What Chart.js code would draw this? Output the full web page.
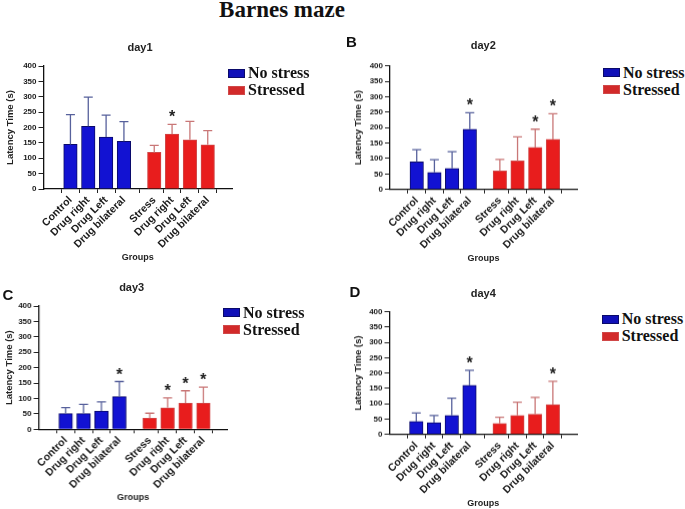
<!DOCTYPE html>
<html>
<head>
<meta charset="utf-8">
<title>Barnes maze</title>
<script src="https://cdn.jsdelivr.net/npm/chart.js@4.4.0/dist/chart.umd.min.js"></script>
<style>
    body { margin: 0; background: #fff; }
    #figure {
        position: relative; width: 685px; height: 509px; overflow: hidden;
        font-family: "Liberation Sans", Arial, sans-serif; color: #111;
    }
    .panel { position: absolute; }
    .centered { position: absolute; transform: translate(-50%, -50%); line-height: 1; white-space: nowrap; }
    .fig-title { font: bold 23px "Liberation Serif", "Times New Roman", serif; }
    .letter { font-weight: bold; font-size: 15px; }
    .day { font-weight: bold; font-size: 11px; color: #222; }
    .legend-row {
        position: absolute; height: 17px; display: flex; align-items: center;
        font: bold 16px "Liberation Serif", "Times New Roman", serif; white-space: nowrap;
    }
    .legend-row .box { width: 15px; height: 7px; margin-right: 3px; border: 1px solid; }
</style>
</head>
<body>
<div id="figure">
    <div class="centered fig-title" style="left:282px; top:10px;">Barnes maze</div>
</div>

<script>
    // categories on the x axis (No stress groups, then Stressed groups)
    const labels = ['Control', 'Drug right', 'Drug Left', 'Drug bilateral',
                    'Stress', 'Drug right', 'Drug Left', 'Drug bilateral'];
    const seriesNames = ['No stress', 'Stressed'];
    const dayTitles = ['day1', 'day2', 'day3', 'day4'];
    const yTitle = 'Latency Time (s)';
    const xTitle = 'Groups';
    const yMax = 400;
    const yStep = 50;

    // mean latency (s) and SD
    const day1NoStress = [145, 204, 169, 155];
    const day1NoStressSD = [97, 95, 71, 64];
    const day1Stressed = [119, 179, 160, 144];
    const day1StressedSD = [23, 31, 60, 46];
    const day1Sig = [false, false, false, false, false, true, false, false];

    const day2NoStress = [89, 55, 68, 195];
    const day2NoStressSD = [40, 41, 54, 53];
    const day2Stressed = [60, 92, 136, 162];
    const day2StressedSD = [37, 78, 59, 83];
    const day2Sig = [false, false, false, true, false, false, true, true];

    const day3NoStress = [51, 51, 59, 106];
    const day3NoStressSD = [19, 30, 30, 49];
    const day3Stressed = [36, 70, 85, 85];
    const day3StressedSD = [16, 32, 40, 52];
    const day3Sig = [false, false, false, true, false, true, true, true];

    const day4NoStress = [42, 38, 62, 160];
    const day4NoStressSD = [28, 24, 56, 49];
    const day4Stressed = [36, 62, 66, 97];
    const day4StressedSD = [20, 43, 55, 76];
    const day4Sig = [false, false, false, true, false, false, false, true];

    const blue = { fill: '#1212d2', border: '#0a0a6a', err: '#57619c', legend: '#1010b8' };
    const red = { fill: '#e81d1d', border: '#d04848', err: '#c97777', legend: '#d22a2a' };

    // index-axis position of each bar; the Stressed block sits after a gap
    const slot = labels.map((l, i) => i + 1 + (i >= 4 ? 0.7 : 0));

    // draws the upper SD whisker and the significance star for each bar
    const errorBars = {
        id: 'errorBars',
        afterDatasetsDraw(chart) {
            const ctx = chart.ctx;
            const y = chart.scales.y;
            chart.data.datasets.forEach((ds, di) => {
                chart.getDatasetMeta(di).data.forEach((bar, i) => {
                    const top = y.getPixelForValue(ds.data[i].y + ds.sd[i]);
                    ctx.save();
                    ctx.strokeStyle = ds.errColor;
                    ctx.lineWidth = 1.3;
                    ctx.beginPath();
                    ctx.moveTo(bar.x, bar.y);
                    ctx.lineTo(bar.x, top);
                    ctx.moveTo(bar.x - 4.5, top);
                    ctx.lineTo(bar.x + 4.5, top);
                    ctx.stroke();
                    if (ds.sig[i]) {
                        ctx.fillStyle = '#222';
                        ctx.font = 'bold 16px "Liberation Sans"';
                        ctx.textAlign = 'center';
                        ctx.textBaseline = 'alphabetic';
                        ctx.fillText('*', bar.x, top - 2);
                    }
                    ctx.restore();
                });
            });
        }
    };

    const fig = document.getElementById('figure');

    function addText(cls, text, x, y) {
        const d = document.createElement('div');
        d.className = 'centered ' + cls;
        d.style.left = x + 'px';
        d.style.top = y + 'px';
        d.textContent = text;
        fig.appendChild(d);
    }

    function addLegend(x, y) {
        [blue, red].forEach((c, i) => {
            const row = document.createElement('div');
            row.className = 'legend-row';
            row.style.left = x + 'px';
            row.style.top = (y - 8.5 + i * 17) + 'px';
            const box = document.createElement('span');
            box.className = 'box';
            box.style.background = c.legend;
            box.style.borderColor = c.border;
            row.appendChild(box);
            row.appendChild(document.createTextNode(seriesNames[i]));
            fig.appendChild(row);
        });
    }

    function makePanel(p) {
        const width = p.axisEnd - p.left + 8;
        const height = p.plotBottom - p.top + 75;
        const padLeft = p.yTitleX - p.left - 5.7;

        const wrap = document.createElement('div');
        wrap.className = 'panel';
        wrap.style.left = p.left + 'px';
        wrap.style.top = p.top + 'px';
        wrap.style.width = width + 'px';
        wrap.style.height = height + 'px';
        const canvas = document.createElement('canvas');
        wrap.appendChild(canvas);
        fig.appendChild(wrap);

        const tickFont = { family: '"Liberation Sans", Arial, sans-serif', weight: 'bold' };

        new Chart(canvas, {
            type: 'bar',
            data: {
                datasets: [
                    {
                        label: seriesNames[0],
                        data: p.noStress.map((v, i) => ({ x: slot[i], y: v })),
                        sd: p.noStressSD,
                        sig: p.sig.slice(0, 4),
                        errColor: blue.err,
                        backgroundColor: blue.fill,
                        borderColor: blue.border,
                        borderWidth: 1,
                        barThickness: 13.5,
                        grouped: false
                    },
                    {
                        label: seriesNames[1],
                        data: p.stressed.map((v, i) => ({ x: slot[i + 4], y: v })),
                        sd: p.stressedSD,
                        sig: p.sig.slice(4),
                        errColor: red.err,
                        backgroundColor: red.fill,
                        borderColor: red.border,
                        borderWidth: 1,
                        barThickness: 13.5,
                        grouped: false
                    }
                ]
            },
            options: {
                responsive: true,
                maintainAspectRatio: false,
                animation: false,
                layout: {
                    padding: { left: padLeft, top: p.plotTop - p.top, right: 8, bottom: 0 }
                },
                plugins: {
                    legend: { display: false },
                    tooltip: { enabled: false }
                },
                scales: {
                    x: {
                        type: 'linear',
                        min: 0.15,
                        max: 9.4,
                        afterBuildTicks: s => { s.ticks = slot.map(v => ({ value: v })); },
                        afterFit: s => { s.height = 75; },
                        grid: { drawOnChartArea: false, tickLength: 4, color: '#222', tickWidth: 1 },
                        border: { color: '#111', width: 1.3 },
                        ticks: {
                            autoSkip: false,
                            minRotation: 45,
                            maxRotation: 45,
                            padding: 1,
                            color: '#1a1a1a',
                            font: { ...tickFont, size: 10.5 },
                            callback: (v, i) => labels[i]
                        },
                        title: {
                            display: true,
                            text: xTitle,
                            color: '#222',
                            font: { ...tickFont, size: 9 },
                            padding: { top: 0, bottom: 1.1 }
                        }
                    },
                    y: {
                        min: 0,
                        max: yMax,
                        afterFit: s => { s.width = p.axisX - p.left - padLeft; },
                        grid: { drawOnChartArea: false, tickLength: 5, color: '#222', tickWidth: 1 },
                        border: { color: '#111', width: 1.3 },
                        ticks: {
                            stepSize: yStep,
                            padding: 2,
                            color: '#1a1a1a',
                            font: { ...tickFont, size: 8 }
                        },
                        title: {
                            display: true,
                            text: yTitle,
                            color: '#222',
                            font: { ...tickFont, size: 9.5 },
                            padding: { top: 0, bottom: 0 }
                        }
                    }
                }
            },
            plugins: [errorBars]
        });

        if (p.letter) addText('letter', p.letter, p.letterX, p.letterY);
        addText('day', p.title, p.titleX, p.titleY);
        addLegend(p.legendX, p.legendY);
    }

    const panels = [
        { letter: '', title: dayTitles[0], left: 0, top: 30, axisX: 43.5, axisEnd: 232, plotTop: 66, plotBottom: 189,
          yTitleX: 10, titleX: 140, titleY: 46.5, legendX: 228, legendY: 73,
          noStress: day1NoStress, noStressSD: day1NoStressSD, stressed: day1Stressed, stressedSD: day1StressedSD, sig: day1Sig },
        { letter: 'B', letterX: 351.5, letterY: 41, title: dayTitles[1], left: 340, top: 30, axisX: 390, axisEnd: 577,
          plotTop: 65.7, plotBottom: 188.7, yTitleX: 358.3, titleX: 483.3, titleY: 45, legendX: 603, legendY: 72.7,
          noStress: day2NoStress, noStressSD: day2NoStressSD, stressed: day2Stressed, stressedSD: day2StressedSD, sig: day2Sig },
        { letter: 'C', letterX: 8, letterY: 294.3, title: dayTitles[2], left: 0, top: 280, axisX: 38.5, axisEnd: 226.7,
          plotTop: 306, plotBottom: 429.3, yTitleX: 9.3, titleX: 131.7, titleY: 286.7, legendX: 223, legendY: 312.7,
          noStress: day3NoStress, noStressSD: day3NoStressSD, stressed: day3Stressed, stressedSD: day3StressedSD, sig: day3Sig },
        { letter: 'D', letterX: 355, letterY: 291, title: dayTitles[3], left: 340, top: 285, axisX: 389.5, axisEnd: 577,
          plotTop: 311.7, plotBottom: 433.7, yTitleX: 358.3, titleX: 483.3, titleY: 292.7, legendX: 601.7, legendY: 319.3,
          noStress: day4NoStress, noStressSD: day4NoStressSD, stressed: day4Stressed, stressedSD: day4StressedSD, sig: day4Sig }
    ];

    panels.forEach(makePanel);
</script>
</body>
</html>
